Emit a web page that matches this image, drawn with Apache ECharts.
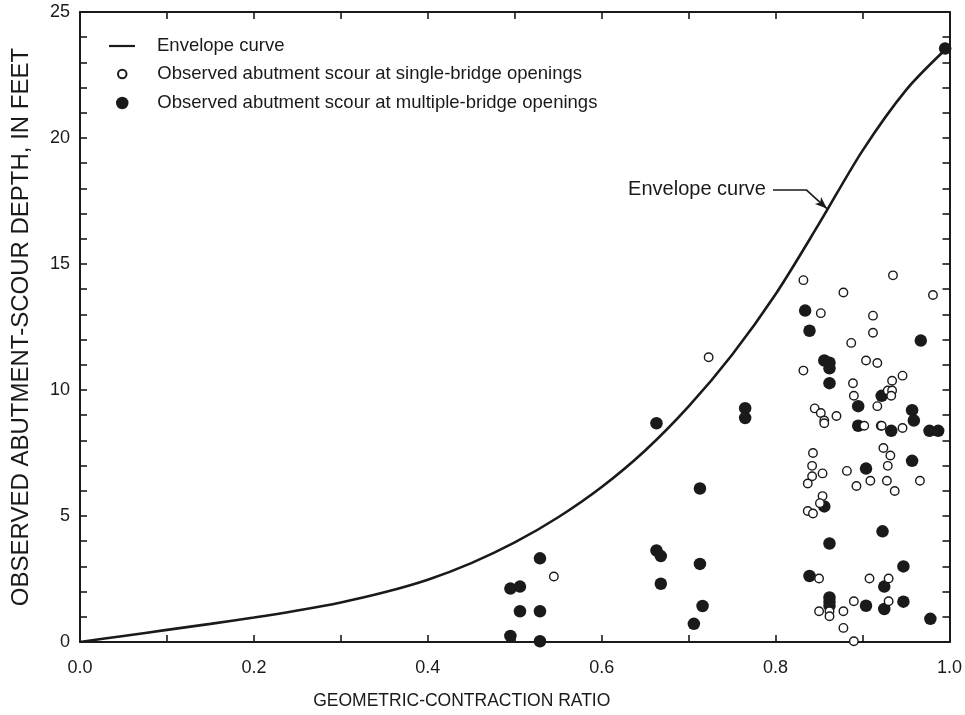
<!DOCTYPE html>
<html>
<head>
<meta charset="utf-8">
<script src="https://cdn.jsdelivr.net/npm/echarts@6/dist/echarts.min.js"></script>
<style>
html,body{margin:0;padding:0;background:#fff;}
#chart{width:965px;height:715px;}
</style>
</head>
<body>
<div id="chart"></div>
<script>
// ---- Data ----
const xTickLabels = ['0.0', '0.2', '0.4', '0.6', '0.8', '1.0'];
const yTickLabels = ['0', '5', '10', '15', '20', '25'];

// Envelope curve: points [ratio, depth]
const envelopeCurve = [
  [0.0, 0.0], [0.05, 0.24], [0.1, 0.48], [0.15, 0.72], [0.2, 0.97],
  [0.25, 1.25], [0.3, 1.57], [0.35, 1.97], [0.4, 2.47], [0.45, 3.13],
  [0.5, 3.95], [0.55, 4.95], [0.6, 6.15], [0.65, 7.6], [0.7, 9.35],
  [0.75, 11.4], [0.8, 13.8], [0.85, 16.6], [0.9, 19.5], [0.95, 21.9],
  [0.995, 23.5]
];

// Observed abutment scour at single-bridge openings (open circles)
const singleBridge = [
  [0.832, 14.36], [0.935, 14.55], [0.878, 13.87], [0.981, 13.77], [0.852, 13.05],
  [0.912, 12.95], [0.912, 12.27], [0.887, 11.87], [0.904, 11.17], [0.917, 11.07],
  [0.832, 10.77], [0.946, 10.57], [0.889, 10.27], [0.934, 10.37], [0.929, 9.98],
  [0.934, 9.98], [0.890, 9.77], [0.933, 9.77], [0.917, 9.36], [0.845, 9.27],
  [0.852, 9.09], [0.856, 8.79], [0.856, 8.68], [0.870, 8.97], [0.902, 8.58],
  [0.921, 8.58], [0.922, 8.58], [0.946, 8.49], [0.843, 7.5], [0.924, 7.7],
  [0.932, 7.4], [0.842, 6.99], [0.929, 6.99], [0.842, 6.58], [0.854, 6.69],
  [0.837, 6.29], [0.882, 6.79], [0.893, 6.19], [0.909, 6.4], [0.928, 6.4],
  [0.966, 6.4], [0.937, 5.99], [0.854, 5.79], [0.851, 5.51], [0.837, 5.2],
  [0.843, 5.1], [0.850, 2.52], [0.908, 2.52], [0.930, 2.52], [0.890, 1.62],
  [0.930, 1.62], [0.850, 1.22], [0.862, 1.22], [0.862, 1.02], [0.878, 1.22],
  [0.878, 0.56], [0.890, 0.03], [0.545, 2.6], [0.723, 11.3]
];

// Observed abutment scour at multiple-bridge openings (filled circles)
const multipleBridge = [
  [0.834, 13.15], [0.839, 12.35], [0.967, 11.96], [0.856, 11.17], [0.862, 11.08],
  [0.862, 10.86], [0.862, 10.27], [0.922, 9.77], [0.895, 9.36], [0.957, 9.2],
  [0.959, 8.79], [0.895, 8.58], [0.933, 8.38], [0.977, 8.38], [0.987, 8.38],
  [0.957, 7.19], [0.904, 6.88], [0.856, 5.38], [0.923, 4.39], [0.862, 3.91],
  [0.947, 3.0], [0.839, 2.62], [0.925, 2.2], [0.862, 1.77], [0.862, 1.6],
  [0.862, 1.44], [0.947, 1.6], [0.904, 1.44], [0.925, 1.31], [0.978, 0.92],
  [0.663, 8.68], [0.765, 9.28], [0.765, 8.89], [0.713, 6.09], [0.529, 3.32],
  [0.663, 3.63], [0.668, 3.41], [0.713, 3.1], [0.668, 2.31], [0.495, 2.12],
  [0.506, 2.2], [0.506, 1.22], [0.529, 1.22], [0.716, 1.43], [0.706, 0.72],
  [0.495, 0.24], [0.529, 0.03], [0.995, 23.55]
];

// Annotation "Envelope curve" with arrow (text anchor, bend, arrow tip)
const annotationText = 'Envelope curve';
const annotationStart = [0.797, 17.95];
const annotationBend = [0.835, 17.95];
const annotationTip = [0.859, 17.2];

const seriesNames = [
  'Envelope curve',
  'Observed abutment scour at single-bridge openings',
  'Observed abutment scour at multiple-bridge openings'
];

// ---- Chart ----
const INK = '#1a1a1a';
const SANS = "'Liberation Sans', Arial, Helvetica, sans-serif";

function xLabel(v) {
  const k = Math.round(v * 10);
  return (k % 2 === 0) ? xTickLabels[k / 2] : '';
}
function yLabel(v) {
  const k = Math.round(v);
  return (k % 5 === 0) ? yTickLabels[k / 5] : '';
}

const axisLineStyle = { color: INK, width: 2 };
const tickStyle = { show: true, inside: true, length: 7, lineStyle: { color: INK, width: 1.6 } };

const chart = echarts.init(document.getElementById('chart'), null, { renderer: 'canvas' });

function legendBlock(name, left, top, itemHeight, icon, textPad) {
  const lg = {
    data: [name],
    left: left,
    top: top,
    orient: 'vertical',
    padding: 0,
    itemWidth: 26,
    itemHeight: itemHeight,
    selectedMode: false,
    textStyle: { fontFamily: SANS, fontSize: 18.5, color: INK, padding: [0, 0, 0, textPad], lineHeight: 20 }
  };
  if (icon) lg.icon = icon;
  return lg;
}

chart.setOption({
  backgroundColor: '#fff',
  animation: false,
  grid: { left: 80, right: 4, top: 12, bottom: 58, containLabel: false },
  legend: [
    legendBlock(seriesNames[0], 109, 36, 2.2, 'rect', 17),
    legendBlock(seriesNames[1], 117, 64, 8.5, null, 17),
    legendBlock(seriesNames[2], 116, 93, 12.5, null, 17)
  ],
  xAxis: [
    {
      type: 'value', min: 0, max: 1, interval: 0.1, position: 'bottom',
      axisLine: { show: true, onZero: false, lineStyle: axisLineStyle },
      axisTick: tickStyle,
      axisLabel: { formatter: xLabel, fontFamily: SANS, fontSize: 18, color: INK, margin: 17 },
      splitLine: { show: false },
      name: 'GEOMETRIC-CONTRACTION RATIO',
      nameLocation: 'middle', nameGap: 50,
      nameTextStyle: { fontFamily: SANS, fontSize: 17.5, color: INK, padding: [0, 106, 0, 0] }
    },
    {
      type: 'value', min: 0, max: 1, interval: 0.1, position: 'top',
      axisLine: { show: true, onZero: false, lineStyle: axisLineStyle },
      axisTick: tickStyle,
      axisLabel: { show: false },
      splitLine: { show: false }
    }
  ],
  yAxis: [
    {
      type: 'value', min: 0, max: 25, interval: 1, position: 'left',
      axisLine: { show: true, onZero: false, lineStyle: axisLineStyle },
      axisTick: tickStyle,
      axisLabel: { formatter: yLabel, fontFamily: SANS, fontSize: 18, color: INK, margin: 10 },
      splitLine: { show: false },
      name: 'OBSERVED ABUTMENT-SCOUR DEPTH, IN FEET',
      nameLocation: 'middle', nameGap: 47,
      nameTextStyle: { fontFamily: SANS, fontSize: 24, color: INK }
    },
    {
      type: 'value', min: 0, max: 25, interval: 1, position: 'right',
      axisLine: { show: true, onZero: false, lineStyle: axisLineStyle },
      axisTick: tickStyle,
      axisLabel: { show: false },
      splitLine: { show: false }
    }
  ],
  series: [
    {
      name: seriesNames[0],
      type: 'line',
      data: envelopeCurve,
      smooth: 0.3,
      symbol: 'none',
      lineStyle: { color: INK, width: 2.6 },
      itemStyle: { color: INK },
      z: 2,
      markLine: {
        silent: true,
        animation: false,
        lineStyle: { color: INK, width: 1.6, type: 'solid' },
        data: [
          [
            { coord: annotationStart, symbol: 'none',
              label: { show: true, position: 'start', formatter: annotationText, distance: 7,
                       fontFamily: SANS, fontSize: 20, color: INK } },
            { coord: annotationBend, symbol: 'none' }
          ],
          [
            { coord: annotationBend, symbol: 'none', label: { show: false } },
            { coord: annotationTip, symbol: 'arrow', symbolSize: [7, 12] }
          ]
        ]
      }
    },
    {
      name: seriesNames[2],
      type: 'scatter',
      data: multipleBridge,
      symbol: 'circle',
      symbolSize: 12.5,
      itemStyle: { color: INK, opacity: 1 },
      z: 3
    },
    {
      name: seriesNames[1],
      type: 'scatter',
      data: singleBridge,
      symbol: 'circle',
      symbolSize: 8.5,
      itemStyle: { color: '#fff', borderColor: INK, borderWidth: 1.4, opacity: 1 },
      z: 4
    }
  ]
});
</script>
</body>
</html>
